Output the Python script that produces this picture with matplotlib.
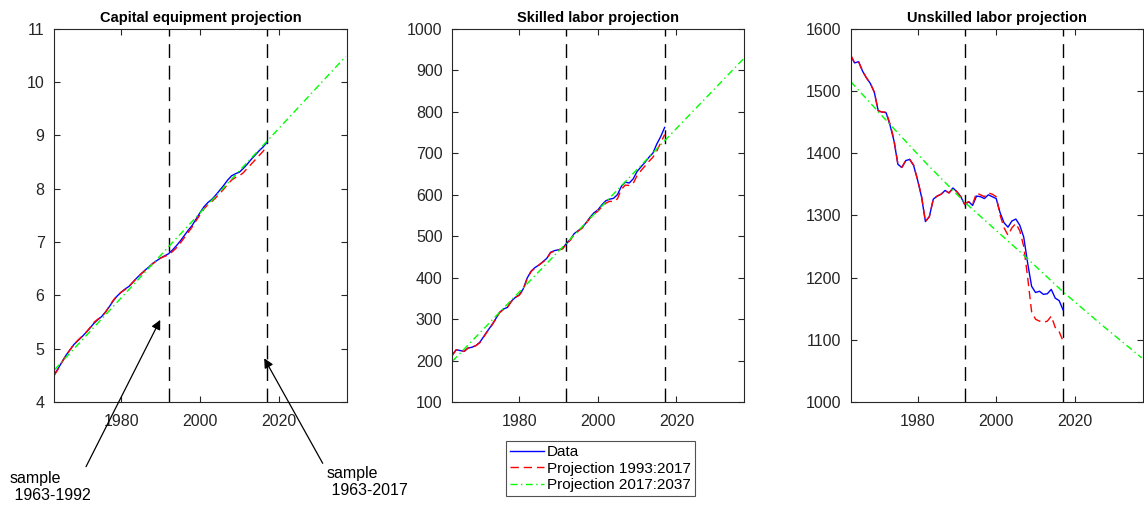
import matplotlib
matplotlib.use("Agg")
import matplotlib.pyplot as plt
import numpy as np

plt.rcParams['font.family'] = ['Liberation Sans', 'DejaVu Sans']

# ---------------- data ----------------
years = list(range(1963, 2018))

capital_data = [4.52, 4.63, 4.76, 4.88, 4.98, 5.08, 5.15, 5.22, 5.30, 5.38,
                5.47, 5.54, 5.60, 5.69, 5.79, 5.90, 5.99, 6.06, 6.12, 6.17,
                6.25, 6.33, 6.40, 6.47, 6.53, 6.60, 6.65, 6.70, 6.74, 6.78,
                6.85, 6.93, 7.02, 7.12, 7.22, 7.31, 7.43, 7.55, 7.66, 7.74,
                7.80, 7.88, 7.97, 8.06, 8.16, 8.24, 8.28, 8.31, 8.38, 8.46,
                8.55, 8.63, 8.71, 8.78, 8.87]
capital_proj = [4.50, 4.62, 4.75, 4.87, 4.98, 5.08, 5.16, 5.23, 5.30, 5.39,
                5.49, 5.55, 5.60, 5.68, 5.80, 5.91, 6.00, 6.06, 6.11, 6.17,
                6.25, 6.33, 6.40, 6.46, 6.52, 6.59, 6.65, 6.70, 6.73, 6.76,
                6.82, 6.89, 6.98, 7.08, 7.18, 7.28, 7.40, 7.51, 7.62, 7.70,
                7.76, 7.83, 7.91, 7.99, 8.08, 8.16, 8.21, 8.24, 8.30, 8.38,
                8.46, 8.54, 8.62, 8.70, 8.80]
capital_trend_x = [1963, 1992, 2017, 2037]
capital_trend_y = [4.60, 6.91, 8.89, 10.48]

skilled_data = [214, 226, 224, 222, 230, 232, 236, 244, 258, 272,
                285, 300, 316, 324, 328, 343, 352, 358, 372, 398,
                415, 424, 430, 438, 446, 461, 465, 467, 470, 482,
                492, 506, 513, 520, 532, 545, 556, 563, 575, 585,
                589, 591, 600, 620, 630, 628, 638, 656, 667, 678,
                690, 700, 722, 740, 762]
skilled_proj = [212, 226, 224, 222, 230, 232, 236, 243, 257, 271,
                284, 299, 315, 323, 328, 342, 352, 357, 370, 396,
                414, 423, 430, 437, 445, 460, 464, 466, 469, 480,
                490, 504, 512, 519, 530, 543, 553, 560, 570, 579,
                584, 583, 590, 613, 623, 622, 627, 646, 658, 669,
                680, 690, 705, 725, 745]
skilled_trend_x = [1963, 1992, 2017, 2037]
skilled_trend_y = [198, 483, 730, 927]

unskilled_data = [1556, 1545, 1547, 1532, 1521, 1512, 1498, 1468, 1466, 1465,
                  1445, 1420, 1382, 1377, 1388, 1390, 1380, 1357, 1330, 1290,
                  1298, 1326, 1331, 1334, 1340, 1336, 1344, 1338, 1330, 1317,
                  1322, 1316, 1331, 1330, 1327, 1333, 1330, 1327, 1304, 1288,
                  1281, 1291, 1294, 1284, 1265, 1223, 1186, 1176, 1178, 1173,
                  1174, 1181, 1167, 1163, 1148]
unskilled_proj = [1558, 1545, 1547, 1532, 1521, 1512, 1498, 1468, 1466, 1466,
                  1447, 1422, 1382, 1377, 1388, 1390, 1381, 1357, 1332, 1290,
                  1298, 1326, 1331, 1334, 1340, 1336, 1344, 1338, 1330, 1318,
                  1322, 1318, 1336, 1333, 1330, 1336, 1334, 1330, 1300, 1280,
                  1268, 1280, 1287, 1275, 1250, 1200, 1145, 1133, 1130, 1128,
                  1130, 1138, 1120, 1113, 1098]
unskilled_trend_x = [1963, 1973, 1982, 1992, 2007, 2017, 2027, 2037]
unskilled_trend_y = [1515, 1446, 1385, 1321, 1236, 1177, 1123, 1071]

titles = ['Capital equipment projection', 'Skilled labor projection',
          'Unskilled labor projection']
ylims = [(4, 11), (100, 1000), (1000, 1600)]
yticks = [list(range(4, 12)), list(range(100, 1001, 100)), list(range(1000, 1601, 100))]
xticks = [1980, 2000, 2020]
vlines = [1992, 2017]
legend_labels = ['Data', 'Projection 1993:2017', 'Projection 2017:2037']

series = [
    (capital_data, capital_proj, capital_trend_x, capital_trend_y),
    (skilled_data, skilled_proj, skilled_trend_x, skilled_trend_y),
    (unskilled_data, unskilled_proj, unskilled_trend_x, unskilled_trend_y),
]

# ---------------- figure ----------------
W, H = 1144, 512
fig = plt.figure(figsize=(W / 100, H / 100), dpi=100)

FS = 11.5
ax_px = [(54.3, 346.7), (452.3, 744.3), (850.7, 1142.7)]
top_px, bot_px = 28.7, 402.0
axes = []
grey = '#262626'
for i, (x0, x1) in enumerate(ax_px):
    ax = fig.add_axes([x0 / W, 1 - bot_px / H, (x1 - x0) / W, (bot_px - top_px) / H])
    d, p, tx, ty = series[i]
    l1, = ax.plot(years, d, color='#0000ff', lw=1.0)
    l2, = ax.plot(years, p, color='#ff0000', lw=1.0, dashes=(6, 3.5))
    l3, = ax.plot(tx, ty, color='#00ff00', lw=1.0, dashes=(5, 2.5, 1, 2.5))
    for v in vlines:
        ax.axvline(v, color='k', lw=1.0, dashes=(10, 5.5), zorder=1)
    ax.set_xlim(1963, 2037.25)
    ax.set_ylim(*ylims[i])
    ax.set_yticks(yticks[i])
    ax.set_xticks(xticks)
    ax.tick_params(direction='in', top=True, right=True, length=4, width=0.8,
                   labelsize=FS, colors=grey, pad=7)
    ax.tick_params(axis='x', pad=9)
    for s in ax.spines.values():
        s.set_color(grey)
        s.set_linewidth(0.8)
    ax.set_title(titles[i], fontsize=10.5, fontweight='bold', pad=5)
    axes.append(ax)
    handles = [l1, l2, l3]

# legend below middle panel
leg = fig.legend(handles, legend_labels, loc='upper left',
                 bbox_to_anchor=(505.7 / W, 1 - 440.7 / H), fontsize=11,
                 frameon=True, fancybox=False, edgecolor=grey, borderpad=0.3,
                 labelspacing=0.15, handlelength=2.2, handletextpad=0.2,
                 borderaxespad=0)
leg.get_frame().set_linewidth(0.8)

# annotations
ax0 = axes[0]
arrow_kw = dict(arrowstyle='-|>', color='k', lw=0.9, mutation_scale=14,
                shrinkA=0, shrinkB=0)
ax0.annotate('', xy=(1989.9, 5.54), xycoords='data',
             xytext=(86 / W, 1 - 466.7 / H), textcoords='figure fraction',
             arrowprops=arrow_kw, annotation_clip=False)
ax0.annotate('', xy=(2016.3, 4.82), xycoords='data',
             xytext=(322.7 / W, 1 - 463.3 / H), textcoords='figure fraction',
             arrowprops=arrow_kw, annotation_clip=False)
fig.text(10 / W, 1 - 471 / H, 'sample\n 1963-1992', fontsize=FS, color='k',
         ha='left', va='top', linespacing=1.15)
fig.text(326.7 / W, 1 - 466 / H, 'sample\n 1963-2017', fontsize=FS, color='k',
         ha='left', va='top', linespacing=1.15)

fig.savefig('out.png', dpi=100)
